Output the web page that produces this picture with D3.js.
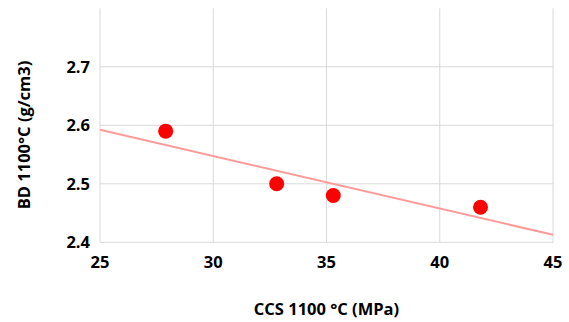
<!DOCTYPE html>
<html><head><meta charset="utf-8">
<script src="https://cdn.jsdelivr.net/npm/d3@7"></script>
<style>body{margin:0;background:#fff}svg{display:block}text{font-family:"Open Sans",sans-serif;font-weight:bold;fill:#000}</style>
</head><body><svg id="c" width="569" height="322"></svg>
<script>
const ccs = [27.9, 32.8, 35.3, 41.8];
const bd = [2.59, 2.50, 2.48, 2.46];
const xTicks = [25, 30, 35, 40, 45];
const yTicks = [2.4, 2.5, 2.6, 2.7];
const xTitle = "CCS 1100 °C (MPa)";
const yTitle = "BD 1100°C (g/cm3)";

const W = 569, H = 322;
const m = {l: 100, r: 16, t: 8.3, b: 79.7};
const svg = d3.select("#c");
const x = d3.scaleLinear().domain([25, 45]).range([m.l, W - m.r]);
const y = d3.scaleLinear().domain([2.4, 2.8]).range([H - m.b, m.t]);
const grid = "#d9d9d9";

svg.append("g").selectAll("line").data(xTicks).join("line")
  .attr("x1", d => x(d)).attr("x2", d => x(d))
  .attr("y1", y(2.8)).attr("y2", y(2.4))
  .attr("stroke", grid).attr("stroke-width", 1);
svg.append("g").selectAll("line").data(yTicks).join("line")
  .attr("x1", x(25)).attr("x2", x(45))
  .attr("y1", d => y(d)).attr("y2", d => y(d))
  .attr("stroke", grid).attr("stroke-width", 1);

svg.append("g").selectAll("text").data(xTicks).join("text")
  .attr("x", d => x(d)).attr("y", y(2.4) + 26)
  .attr("text-anchor", "middle").attr("font-size", 16.5).text(d => d);
svg.append("g").selectAll("text").data(yTicks).join("text")
  .attr("x", m.l - 10).attr("y", d => y(d) + 6)
  .attr("text-anchor", "end").attr("font-size", 16.5).text(d => d.toFixed(1));

const mx = d3.mean(ccs), my = d3.mean(bd);
const slope = d3.sum(ccs.map((v, i) => (v - mx) * (bd[i] - my))) / d3.sum(ccs.map(v => (v - mx) ** 2));
const icpt = my - slope * mx;
svg.append("line")
  .attr("x1", x(25)).attr("y1", y(icpt + slope * 25))
  .attr("x2", x(45)).attr("y2", y(icpt + slope * 45))
  .attr("stroke", "#ff9a9a").attr("stroke-width", 2);

svg.append("g").selectAll("circle").data(ccs).join("circle")
  .attr("cx", d => x(d)).attr("cy", (d, i) => y(bd[i]))
  .attr("r", 7.5).attr("fill", "#ff0000");

svg.append("text").attr("x", (x(25) + x(45)) / 2).attr("y", 315)
  .attr("text-anchor", "middle").attr("font-size", 16.5).text(xTitle);
svg.append("text").attr("transform", `translate(30,135) rotate(-90)`)
  .attr("text-anchor", "middle").attr("font-size", 16.5).text(yTitle);
</script></body></html>
